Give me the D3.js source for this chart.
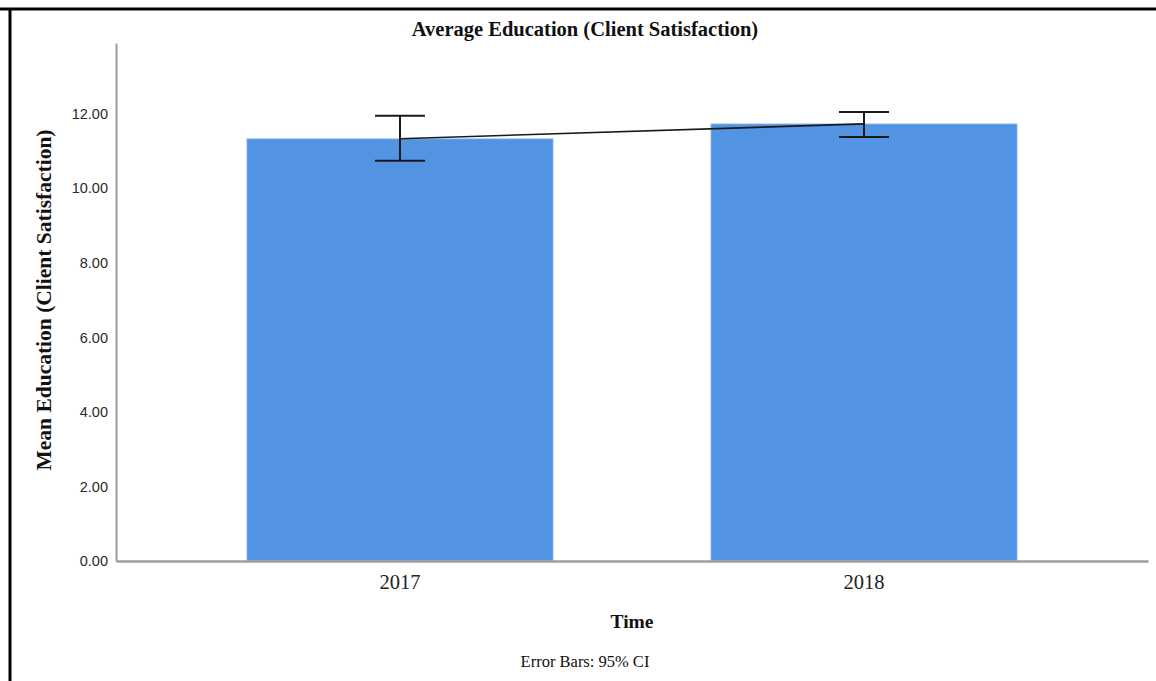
<!DOCTYPE html>
<html>
<head>
<meta charset="utf-8">
<script src="https://cdn.jsdelivr.net/npm/d3@7"></script>
<style>
  body { margin: 0; background: #fff; }
  svg { display: block; }
</style>
</head>
<body>
<div id="chart"></div>
<script>
// --- Data ---
const years = ["2017", "2018"];
const means = [11.33, 11.73];
const ciLow = [10.74, 11.38];
const ciHigh = [11.95, 12.05];
const yTicks = [0, 2, 4, 6, 8, 10, 12];

const W = 1156, H = 681;
const margin = { top: 43, right: 8, bottom: 120, left: 116 };
const width = W - margin.left - margin.right;
const height = H - margin.top - margin.bottom;

const serif = "Liberation Serif, Times New Roman, serif";

const svg = d3.select("#chart").append("svg")
    .attr("width", W)
    .attr("height", H);

// frame (only top and left edges show)
svg.append("line").attr("x1", 0).attr("x2", W).attr("y1", 9).attr("y2", 9)
    .attr("stroke", "#000").attr("stroke-width", 3);
svg.append("line").attr("x1", 10).attr("x2", 10).attr("y1", 8).attr("y2", H)
    .attr("stroke", "#000").attr("stroke-width", 3);

const g = svg.append("g")
    .attr("transform", `translate(${margin.left}, ${margin.top})`);

const x = d3.scaleBand()
    .domain(years)
    .range([0, width])
    .paddingInner(0.34)
    .paddingOuter(0.282);

const y = d3.scaleLinear()
    .domain([0, 13.9])
    .range([height, 0]);

const rows = years.map((yr, i) => ({ yr, mean: means[i], lo: ciLow[i], hi: ciHigh[i] }));

// bars
g.selectAll("rect.bar")
    .data(rows)
    .enter().append("rect")
        .attr("class", "bar")
        .attr("x", d => x(d.yr))
        .attr("y", d => y(d.mean))
        .attr("width", x.bandwidth())
        .attr("height", d => height - y(d.mean))
        .attr("fill", "#5294e2")
        .attr("stroke", "#a8c8ee")
        .attr("stroke-width", 0.8);

// axes
const yAxis = g.append("g")
    .call(d3.axisLeft(y).tickValues(yTicks).tickFormat(d3.format(".2f")).tickSize(0).tickPadding(8));
yAxis.select(".domain").attr("stroke", "#9e9e9e").attr("stroke-width", 2);
yAxis.selectAll("text")
    .attr("font-family", "Liberation Sans, Arial, sans-serif")
    .attr("font-size", 14.5)
    .attr("fill", "#2a2a2a");

const xAxis = g.append("g")
    .attr("transform", `translate(0, ${height})`)
    .call(d3.axisBottom(x).tickSize(0).tickPadding(13).tickSizeOuter(0));
xAxis.select(".domain").attr("stroke", "#9e9e9e").attr("stroke-width", 2.5);
xAxis.selectAll("text")
    .attr("font-family", serif)
    .attr("font-size", 20.5)
    .attr("fill", "#222");

// line through means
const cx = d => x(d.yr) + x.bandwidth() / 2;
g.append("path")
    .datum(rows)
    .attr("fill", "none")
    .attr("stroke", "#1a1a1a")
    .attr("stroke-width", 1.6)
    .attr("d", d3.line().x(cx).y(d => y(d.mean)));

// error bars
const cap = 25;
const eb = g.selectAll("g.err").data(rows).enter().append("g").attr("class", "err")
    .attr("stroke", "#1a1a1a").attr("stroke-width", 2);
eb.append("line").attr("x1", cx).attr("x2", cx).attr("y1", d => y(d.hi)).attr("y2", d => y(d.lo));
eb.append("line").attr("x1", d => cx(d) - cap).attr("x2", d => cx(d) + cap)
    .attr("y1", d => y(d.hi)).attr("y2", d => y(d.hi));
eb.append("line").attr("x1", d => cx(d) - cap).attr("x2", d => cx(d) + cap)
    .attr("y1", d => y(d.lo)).attr("y2", d => y(d.lo));

// titles
svg.append("text")
    .attr("x", 585).attr("y", 36)
    .attr("text-anchor", "middle")
    .attr("font-family", serif)
    .attr("font-weight", "bold")
    .attr("font-size", 20.5)
    .attr("fill", "#111")
    .text("Average Education (Client Satisfaction)");

svg.append("text")
    .attr("transform", "translate(51, 300) rotate(-90)")
    .attr("text-anchor", "middle")
    .attr("font-family", serif)
    .attr("font-weight", "bold")
    .attr("font-size", 21.5)
    .attr("fill", "#111")
    .text("Mean Education (Client Satisfaction)");

svg.append("text")
    .attr("x", 632).attr("y", 628)
    .attr("text-anchor", "middle")
    .attr("font-family", serif)
    .attr("font-weight", "bold")
    .attr("font-size", 19.5)
    .attr("fill", "#111")
    .text("Time");

svg.append("text")
    .attr("x", 585).attr("y", 667)
    .attr("text-anchor", "middle")
    .attr("font-family", serif)
    .attr("font-size", 16.5)
    .attr("fill", "#111")
    .text("Error Bars: 95% CI");
</script>
</body>
</html>
